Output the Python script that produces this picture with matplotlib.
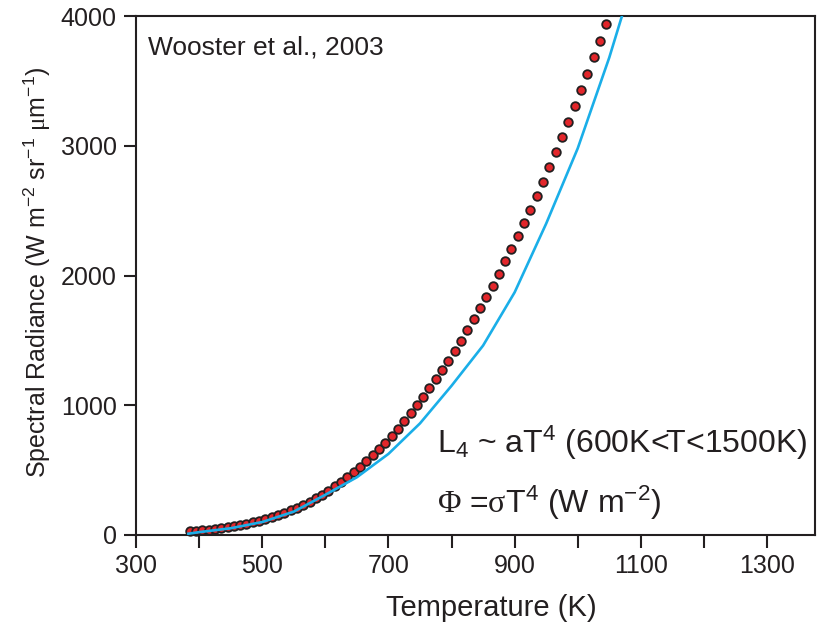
import matplotlib
matplotlib.use("Agg")
import matplotlib.pyplot as plt
from matplotlib.ticker import FixedLocator

# measured spectral radiance (dots), every 10 K
temp_obs = [385, 395, 405, 415, 425, 435, 445, 455, 465, 475, 485, 495,
            505, 515, 525, 535, 545, 555, 565, 575, 585, 595,
            605, 615, 625, 635, 645, 655, 665, 675, 685, 695,
            705, 715, 725, 735, 745, 755, 765, 775, 785, 795,
            805, 815, 825, 835, 845, 855, 865, 875, 885, 895,
            905, 915, 925, 935, 945, 955, 965, 975, 985, 995,
            1005, 1015, 1025, 1035, 1045]
rad_obs = [28, 32, 36, 41, 46, 52, 59, 67, 76, 87, 98, 111,
           124, 139, 154, 171, 190, 210, 232, 256, 282, 311,
           341, 374, 408, 445, 483, 524, 567, 613, 661, 711,
           764, 820, 878, 938, 1000, 1064, 1131, 1200, 1271, 1344,
           1420, 1498, 1578, 1661, 1746, 1833, 1922, 2014, 2108, 2205,
           2304, 2405, 2508, 2614, 2722, 2835, 2950, 3067, 3186, 3307,
           3430, 3555, 3682, 3811, 3942]

# fitted curve (blue line)
temp_fit = [383, 400, 450, 500, 550, 600, 650, 700, 750, 800, 850, 900,
            950, 1000, 1050, 1072]
rad_fit = [10, 22, 52, 100, 180, 310, 445, 625, 860, 1150, 1460, 1870,
           2400, 2980, 3680, 4030]

x_major = [300, 500, 700, 900, 1100, 1300]
x_minor = [400, 600, 800, 1000, 1200]
y_major = [0, 1000, 2000, 3000, 4000]

plt.rcParams['font.family'] = ['Liberation Sans', 'DejaVu Sans']
plt.rcParams['mathtext.fontset'] = 'custom'
plt.rcParams['mathtext.rm'] = 'Liberation Sans'
plt.rcParams['mathtext.it'] = 'Liberation Sans:italic'
plt.rcParams['mathtext.sf'] = 'Liberation Serif'

edge = '#231f20'

fig = plt.figure(figsize=(8.21, 6.28), dpi=100)
ax = fig.add_axes([136 / 821, 1 - 535 / 628, 679 / 821, 519 / 628])

ax.plot(temp_obs, rad_obs, 'o', ms=6.2, mfc='#e3262b', mec=edge, mew=1.3,
        zorder=2, clip_on=False)
ax.plot(temp_fit, rad_fit, '-', color='#1aaee8', lw=1.9, zorder=3)

ax.set_xlim(300, 1376)
ax.set_ylim(0, 4000)

ax.xaxis.set_major_locator(FixedLocator(x_major))
ax.xaxis.set_minor_locator(FixedLocator(x_minor))
ax.yaxis.set_major_locator(FixedLocator(y_major))

for s in ax.spines.values():
    s.set_color(edge)
    s.set_linewidth(1.5)

ax.tick_params(axis='both', which='both', direction='out', length=9,
               width=1.5, color=edge)
ax.tick_params(axis='x', which='major', pad=5)
ax.tick_params(axis='y', which='major', pad=5)
for lab in ax.get_xticklabels() + ax.get_yticklabels():
    lab.set_fontsize(18)
    lab.set_color(edge)

ax.set_xlabel('Temperature (K)', fontsize=21, color=edge)
ax.xaxis.set_label_coords(0.523, -0.114)
ax.set_ylabel(r'Spectral Radiance (W m$^{-2}$ sr$^{-1}$ $\mathsf{\mu}$m$^{-1}$)',
              fontsize=18, color=edge)
ax.yaxis.set_label_coords(-0.122, 0.507)

ax.text(0.0177, 0.925, 'Wooster et al., 2003', transform=ax.transAxes,
        fontsize=19, color=edge, va='baseline')
ax.text(0.443, 0.158, r'L$_4$ ~ aT$^4$ (600K<T<1500K)', transform=ax.transAxes,
        fontsize=23, color=edge, va='baseline')
ax.text(0.443, 0.0424, r'$\mathsf{\Phi}$ =$\mathsf{\sigma}$T$^4$ (W m$^{-2}$)',
        transform=ax.transAxes, fontsize=23, color=edge, va='baseline')

fig.savefig('out.png', dpi=100)
